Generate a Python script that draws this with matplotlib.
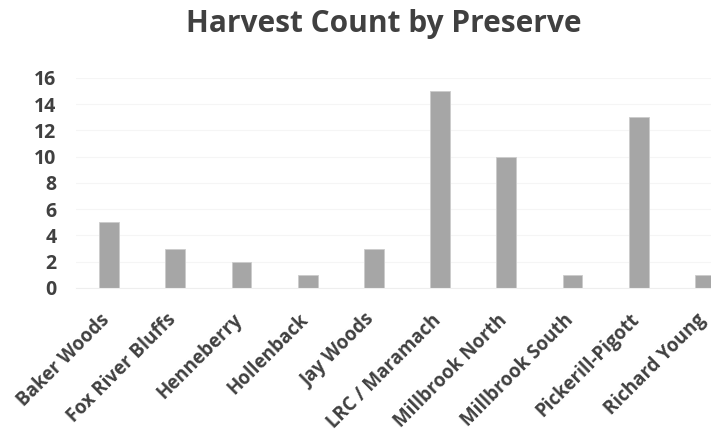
import matplotlib.pyplot as plt
from matplotlib import transforms

preserves = ['Baker Woods', 'Fox River Bluffs', 'Henneberry', 'Hollenback',
             'Jay Woods', 'LRC / Maramach', 'Millbrook North',
             'Millbrook South', 'Pickerill-Pigott', 'Richard Young']
harvest = [5, 3, 2, 1, 3, 15, 10, 1, 13, 1]
yticks = [0, 2, 4, 6, 8, 10, 12, 14, 16]

plt.rcParams['font.family'] = ['Open Sans', 'DejaVu Sans']
txt = '#404040'

fig = plt.figure(figsize=(7.11, 4.33), dpi=100)
ax = fig.add_axes([0.1069, 0.3349, 0.931, 0.4850])

x = list(range(len(preserves)))
ax.bar(x, harvest, width=0.3, color='#a6a6a6', edgecolor='#cccccc',
       linewidth=0.6, zorder=2)

ax.set_xlim(-0.5, 9.5)
ax.set_ylim(0, 16)
ax.set_yticks(yticks)
ax.set_yticklabels([str(v) for v in yticks], fontsize=14, fontweight='bold',
                   color=txt)
ax.grid(axis='y', color='#f5f5f5', linewidth=0.8, zorder=0)
ax.tick_params(axis='y', length=0, pad=14)

ax.set_xticks(x)
ax.set_xticklabels(preserves, rotation=45, ha='right', va='center',
                   rotation_mode='anchor', fontsize=13.5, fontweight='bold',
                   color=txt)
ax.tick_params(axis='x', length=0, pad=21)
shift = transforms.ScaledTranslation(-2 / 100, 0, fig.dpi_scale_trans)
for lab in ax.get_xticklabels():
    lab.set_transform(lab.get_transform() + shift)

for s in ['top', 'right', 'left']:
    ax.spines[s].set_visible(False)
ax.spines['bottom'].set_color('#eeeeee')

fig.text(0.54, 1 - 32 / 433, 'Harvest Count by Preserve', ha='center',
         va='baseline', fontsize=21.5, fontweight='bold', color=txt)

fig.savefig('out.png', dpi=100)
